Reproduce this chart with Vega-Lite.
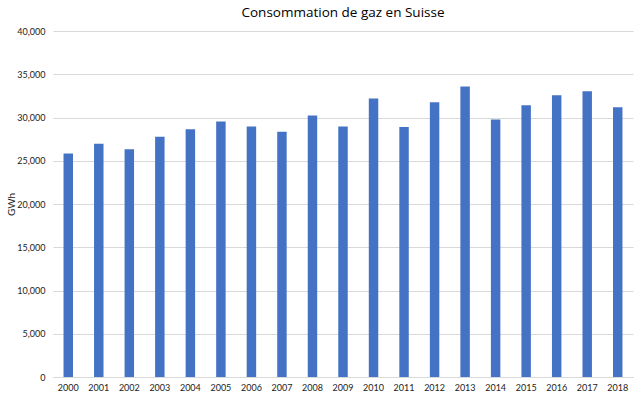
{
  "$schema": "https://vega.github.io/schema/vega-lite/v6.json",
  "width": 580,
  "height": 346,
  "autosize": {"type": "none"},
  "padding": {"left": 53, "top": 31, "right": 7, "bottom": 20},
  "background": "white",
  "title": {
    "text": "Consommation de gaz en Suisse",
    "font": "Open Sans",
    "fontSize": 13.5,
    "fontWeight": "normal",
    "color": "#000000",
    "anchor": "middle",
    "offset": 8
  },
  "config": {
    "view": {"stroke": null},
    "font": "Lato"
  },
  "data": {
    "values": [
      {"year": "2000", "gwh": 25850},
      {"year": "2001", "gwh": 26970},
      {"year": "2002", "gwh": 26340},
      {"year": "2003", "gwh": 27780},
      {"year": "2004", "gwh": 28650},
      {"year": "2005", "gwh": 29550},
      {"year": "2006", "gwh": 28970},
      {"year": "2007", "gwh": 28350},
      {"year": "2008", "gwh": 30240},
      {"year": "2009", "gwh": 28970},
      {"year": "2010", "gwh": 32200},
      {"year": "2011", "gwh": 28890},
      {"year": "2012", "gwh": 31770},
      {"year": "2013", "gwh": 33580},
      {"year": "2014", "gwh": 29770},
      {"year": "2015", "gwh": 31420},
      {"year": "2016", "gwh": 32580},
      {"year": "2017", "gwh": 33040},
      {"year": "2018", "gwh": 31190}
    ]
  },
  "mark": {"type": "bar", "color": "#4472C4"},
  "encoding": {
    "x": {
      "field": "year",
      "type": "ordinal",
      "scale": {"paddingInner": 0.69, "paddingOuter": 0.345},
      "axis": {
        "title": null,
        "labelAngle": 0,
        "labelFont": "Lato",
        "labelFontSize": 9,
        "labelColor": "#222222",
        "ticks": false,
        "domainColor": "#d9d9d9",
        "labelPadding": 6
      }
    },
    "y": {
      "field": "gwh",
      "type": "quantitative",
      "scale": {"domain": [0, 40000]},
      "axis": {
        "title": "GWh",
        "titleFont": "Lato",
        "titleFontSize": 10,
        "titleFontWeight": "normal",
        "titleColor": "#222222",
        "titleX": -42,
        "titleY": 173,
        "titleAngle": -90,
        "titleAlign": "center",
        "titleBaseline": "middle",
        "values": [0, 5000, 10000, 15000, 20000, 25000, 30000, 35000, 40000],
        "format": ",.0f",
        "labelFont": "Lato",
        "labelFontSize": 9,
        "labelColor": "#222222",
        "labelPadding": 8,
        "ticks": false,
        "domain": false,
        "gridColor": "#d9d9d9"
      }
    }
  }
}
